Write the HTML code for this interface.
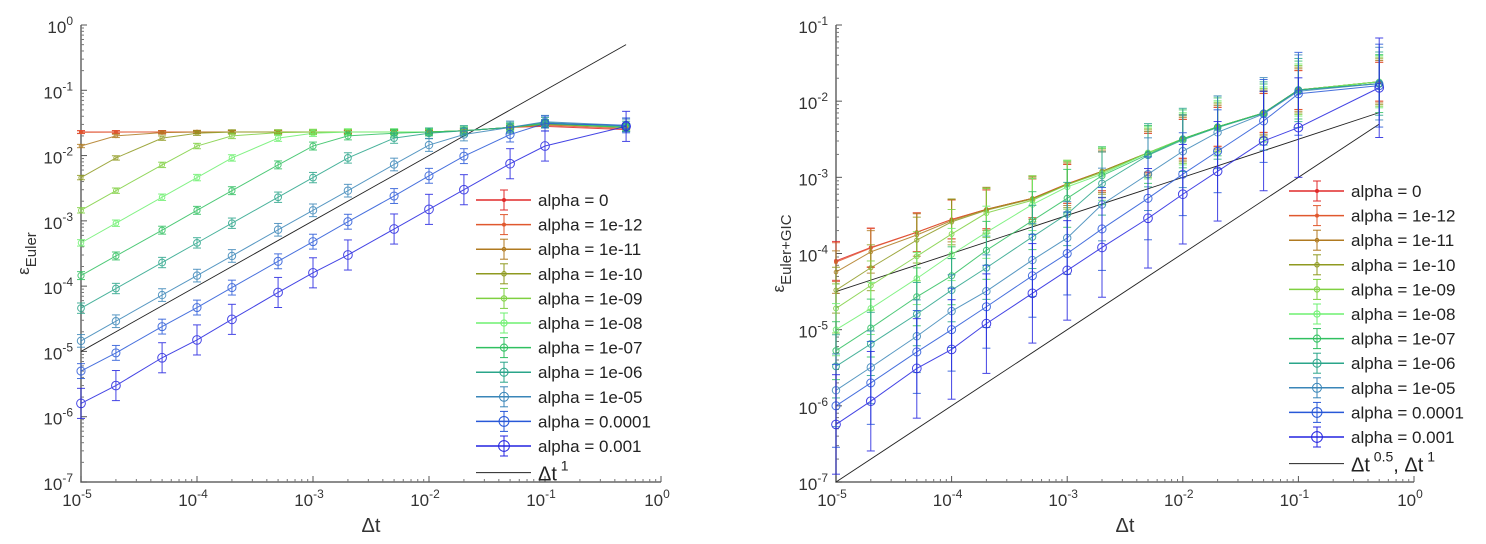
<!DOCTYPE html>
<html><head><meta charset="utf-8">
<style>
body{margin:0;background:#fff;}
svg{display:block;font-family:"Liberation Sans",sans-serif;}
</style></head>
<body>
<svg id="chart" width="1486" height="544" viewBox="0 0 1486 544"></svg>
<script>
// ---- data ----
const dtValues = [1e-5,2e-5,5e-5,1e-4,2e-4,5e-4,1e-3,2e-3,5e-3,1e-2,2e-2,5e-2,1e-1,5e-1];
const seriesLabels = ["alpha = 0","alpha = 1e-12","alpha = 1e-11","alpha = 1e-10","alpha = 1e-09","alpha = 1e-08","alpha = 1e-07","alpha = 1e-06","alpha = 1e-05","alpha = 0.0001","alpha = 0.001"];
const seriesColors = ["#e02a2a","#e0582e","#b07a20","#8f9a20","#7fd040","#6ef070","#30c060","#2aa58a","#3a86b8","#2858d8","#2424e0"];
const leftValues = [
 [0.023,0.023,0.023,0.023,0.023,0.023,0.023,0.023,0.023,0.023,0.024,0.027,0.028,0.025],
 [0.0228,0.0229,0.023,0.023,0.023,0.023,0.023,0.023,0.023,0.023,0.024,0.027,0.029,0.026],
 [0.014,0.020,0.0225,0.023,0.023,0.023,0.023,0.023,0.023,0.023,0.024,0.027,0.030,0.027],
 [0.0046,0.0092,0.0185,0.022,0.023,0.023,0.023,0.023,0.023,0.023,0.024,0.027,0.030,0.027],
 [0.00145,0.0029,0.0072,0.014,0.020,0.0225,0.023,0.023,0.023,0.023,0.024,0.027,0.031,0.027],
 [0.00046,0.00092,0.0023,0.0046,0.0092,0.0185,0.022,0.023,0.023,0.023,0.024,0.027,0.031,0.027],
 [0.000145,0.00029,0.00072,0.00145,0.0029,0.0072,0.014,0.020,0.022,0.023,0.024,0.027,0.031,0.027],
 [4.6e-5,9.2e-5,0.00023,0.00046,0.00092,0.0023,0.0046,0.0092,0.0185,0.022,0.024,0.027,0.032,0.028],
 [1.45e-5,2.9e-5,7.3e-5,0.000145,0.00029,0.00073,0.00145,0.0029,0.0073,0.0145,0.021,0.027,0.033,0.029],
 [5e-6,9.5e-6,2.4e-5,4.7e-5,9.5e-5,0.00024,0.00048,0.00097,0.0024,0.0049,0.0098,0.021,0.031,0.029],
 [1.6e-6,3e-6,8e-6,1.5e-5,3.1e-5,8e-5,0.00016,0.0003,0.00075,0.0015,0.003,0.0075,0.014,0.028]
];
const leftErrFactor = [1.05,1.05,1.06,1.08,1.1,1.12,1.15,1.2,1.25,1.3,1.7];
const rightValues = [
 [8e-5,0.00012,0.00019,0.00028,0.00038,0.00053,0.00082,0.0012,0.0021,0.0032,0.0046,0.007,0.014,0.018],
 [7.7e-5,0.000118,0.00019,0.00028,0.00038,0.00053,0.00082,0.0012,0.0021,0.0032,0.0046,0.007,0.014,0.018],
 [5.7e-5,0.000105,0.000175,0.00027,0.00038,0.00053,0.00081,0.0012,0.0021,0.0032,0.0046,0.007,0.014,0.018],
 [3.3e-5,6.5e-5,0.00015,0.00026,0.00037,0.00052,0.0008,0.0012,0.0021,0.0032,0.0046,0.007,0.014,0.018],
 [1.9e-5,3.8e-5,9.2e-5,0.00018,0.00034,0.0005,0.0008,0.00115,0.0021,0.0032,0.0046,0.007,0.014,0.018],
 [1e-5,1.9e-5,4.7e-5,9.7e-5,0.00019,0.00044,0.00075,0.0011,0.0021,0.0032,0.0046,0.007,0.014,0.018],
 [5.3e-6,1.05e-5,2.7e-5,5.1e-5,0.00011,0.00027,0.00053,0.00105,0.002,0.0032,0.0046,0.007,0.014,0.017],
 [3.3e-6,6.5e-6,1.6e-5,3.3e-5,6.5e-5,0.000165,0.00033,0.00083,0.00195,0.0031,0.0045,0.0069,0.014,0.017],
 [1.6e-6,3.2e-6,8.2e-6,1.75e-5,3.2e-5,8.2e-5,0.00016,0.00044,0.0011,0.0022,0.0039,0.0068,0.0135,0.017],
 [1e-6,2e-6,5.1e-6,1e-5,2e-5,5.1e-5,0.0001,0.00021,0.00053,0.0011,0.0022,0.0055,0.0125,0.016],
 [5.7e-7,1.15e-6,3.1e-6,5.5e-6,1.2e-5,3e-5,6e-5,0.00012,0.00029,0.0006,0.0012,0.003,0.0045,0.015]
];
const rightErrFactor = [1.8,1.8,1.9,2.0,2.1,2.2,2.4,2.6,3.0,3.5,4.5];
const leftRefCoef = [1.0];
const leftRefPow = [1];
const rightRefCoef = [0.01,0.01];
const rightRefPow = [0.5,1];
const xTickExps = [-5,-4,-3,-2,-1,0];
const leftYTickExps = [0,-1,-2,-3,-4,-5,-6,-7];
const rightYTickExps = [-1,-2,-3,-4,-5,-6,-7];

const NS="http://www.w3.org/2000/svg";
const svg=document.getElementById('chart');
function mk(tag,attrs,parent){const e=document.createElementNS(NS,tag);for(const k in attrs)e.setAttribute(k,attrs[k]);(parent||svg).appendChild(e);return e;}

function drawPlot(cfg){
  const {x0,x1,y0,y1,xmin,xmax,ymin,ymax,values,errF,refC,refP,yTicks,ylabel,legX,legY,legText,name}=cfg;
  const g=mk('g',{});
  
  
  const X=v=>x0+(Math.log10(v)-xmin)/(xmax-xmin)*(x1-x0);
  const Y=v=>y1-(Math.log10(v)-ymin)/(ymax-ymin)*(y1-y0);
  const ax=mk('path',{d:`M${x0},${y0} L${x0},${y1} L${x1},${y1}`,stroke:'#666',fill:'none','stroke-width':1.5},g);
  
  
  for(let e=xmin;e<=xmax;e++){
    const px=X(Math.pow(10,e));
    mk('line',{x1:px,y1:y1,x2:px,y2:y1-6,stroke:'#555'},g);
    if(e<xmax)for(let m=2;m<10;m++){const p=X(m*Math.pow(10,e));mk('line',{x1:p,y1:y1,x2:p,y2:y1-3,stroke:'#777'},g);}
  }
  xTickExps.forEach(e=>{
    const t=mk('text',{x:X(Math.pow(10,e))-4,y:y1+24,'font-size':17,fill:'#333','text-anchor':'middle'},g);
    
    
    t.innerHTML=`10<tspan dy="-8" font-size="12">${e}</tspan>`;
  });
  for(let e=ymin;e<=ymax;e++){
    const py=Y(Math.pow(10,e));
    mk('line',{x1:x0,y1:py,x2:x0+6,y2:py,stroke:'#555'},g);
    if(e<ymax)for(let m=2;m<10;m++){const p=Y(m*Math.pow(10,e));mk('line',{x1:x0,y1:p,x2:x0+3,y2:p,stroke:'#777'},g);}
  }
  yTicks.forEach(e=>{
    const t=mk('text',{x:x0-8,y:Y(Math.pow(10,e))+8,'font-size':17,fill:'#333','text-anchor':'end'},g);
    
    
    t.innerHTML=`10<tspan dy="-8" font-size="12">${e}</tspan>`;
  });
  const xl=mk('text',{x:(x0+x1)/2,y:y1+50,'font-size':20,fill:'#333','text-anchor':'middle'},g);
  
  
  xl.textContent='Δt';
  const yl=mk('text',{transform:`translate(${x0-52},${(y0+y1)/2}) rotate(-90)`,'font-size':17,fill:'#333','text-anchor':'middle'},g);
  
  
  yl.innerHTML=`ε<tspan dy="7" font-size="15">${ylabel}</tspan>`;
  refC.forEach((c,i)=>{
    const a=dtValues[0],b=dtValues[dtValues.length-1];
    const l=mk('line',{x1:X(a),y1:Y(c*Math.pow(a,refP[i])),x2:X(b),y2:Y(c*Math.pow(b,refP[i])),stroke:'#222','stroke-width':0.9},g);
    
    
  });
  values.forEach((vals,s)=>{
    const col=seriesColors[s];
    const sg=mk('g',{stroke:col,fill:'none','stroke-width':1,opacity:0.85},g);
    
    
    mk('polyline',{points:vals.map((v,i)=>X(dtValues[i])+','+Y(v)).join(' ')},sg);
    const r=s<2?1.5:1.8+0.32*(s-2);
    vals.forEach((v,i)=>{
      const px=X(dtValues[i]);
      const lo=Y(v/errF[s]),hi=Y(v*errF[s]);
      mk('line',{x1:px,y1:lo,x2:px,y2:hi},sg);
      mk('line',{x1:px-4,y1:lo,x2:px+4,y2:lo},sg);
      mk('line',{x1:px-4,y1:hi,x2:px+4,y2:hi},sg);
      const c=mk('circle',{cx:px,cy:Y(v),r:r,fill:s<2?col:'none'},sg);
      
      
    });
  });
  const lg=mk('g',{},g);
  
  
  seriesLabels.forEach((lab,s)=>{
    const yy=legY+s*24.6;
    const eg=mk('g',{},lg);
    
    
    const col=seriesColors[s];
    mk('line',{x1:legX,y1:yy,x2:legX+55,y2:yy,stroke:col,'stroke-width':1.5},eg);
    mk('line',{x1:legX+28,y1:yy-10,x2:legX+28,y2:yy+10,stroke:col},eg);
    mk('line',{x1:legX+24,y1:yy-10,x2:legX+32,y2:yy-10,stroke:col},eg);
    mk('line',{x1:legX+24,y1:yy+10,x2:legX+32,y2:yy+10,stroke:col},eg);
    const r=s<2?1.5:1.8+0.45*(s-2);
    mk('circle',{cx:legX+28,cy:yy,r:r,stroke:col,fill:s<2?col:'none'},eg);
    const t=mk('text',{x:legX+62,y:yy+6,'font-size':17,fill:'#222'},eg);
    t.textContent=lab;
  });
  const yy=legY+11*24.6+2;
  const eg=mk('g',{},lg);
  
  
  mk('line',{x1:legX,y1:yy,x2:legX+55,y2:yy,stroke:'#222'},eg);
  const t=mk('text',{x:legX+62,y:yy+8,'font-size':20,fill:'#222'},eg);
  t.innerHTML=legText;
}

drawPlot({name:'left-plot',x0:81,x1:661,y0:25,y1:482,xmin:-5,xmax:0,ymin:-7,ymax:0,
  values:leftValues,errF:leftErrFactor,refC:leftRefCoef,refP:leftRefPow,yTicks:leftYTickExps,
  ylabel:'Euler',legX:476,legY:200,legText:'Δt<tspan dy="-10" font-size="14"> 1</tspan>'});
drawPlot({name:'right-plot',x0:836,x1:1414,y0:25,y1:482,xmin:-5,xmax:0,ymin:-7,ymax:-1,
  values:rightValues,errF:rightErrFactor,refC:rightRefCoef,refP:rightRefPow,yTicks:rightYTickExps,
  ylabel:'Euler+GIC',legX:1289,legY:191,legText:'Δt<tspan dy="-10" font-size="14"> 0.5</tspan><tspan dy="10">, Δt</tspan><tspan dy="-10" font-size="14"> 1</tspan>'});
</script>
</body></html>
